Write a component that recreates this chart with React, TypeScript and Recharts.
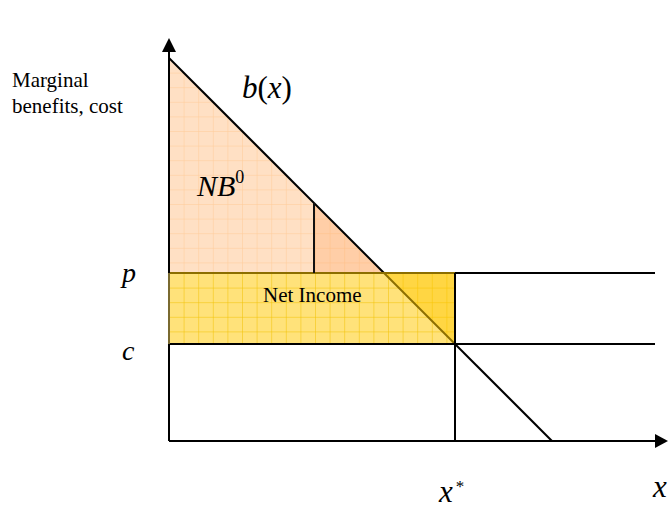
import { ComposedChart, XAxis, YAxis, ReferenceLine, ReferenceArea, ReferenceDot } from "recharts"

// diagram values, in chart units (x: quantity, y: money)
const xDomain = [0, 500]
const yDomain = [0, 403]
const benefitCurve = [{ x: 0, y: 383 }, { x: 383, y: 0 }]
const levelNames = ["p", "c"]
const levelValues = [168, 97]
const levelLabelY = [159, 81]
const levelEnd = 486
const xStar = 286
const cutX = 145
const crossX = 215 // where b(x) meets p
const axisEnd = [499, 403]

const b = (x: number) => benefitCurve[0].y - x
const [price, cost] = levelValues

const serif = "Liberation Serif"
const olive = "#8c6e00"

type Seg = { from: [number, number]; to: [number, number]; color: string }

const segments: Seg[] = [
    { from: [0, b(0)], to: [crossX, price], color: "#000" },
    { from: [crossX, price], to: [xStar, cost], color: olive },
    { from: [xStar, cost], to: [benefitCurve[1].x, 0], color: "#000" },
    { from: [0, price], to: [xStar, price], color: olive },
    { from: [xStar, price], to: [levelEnd, price], color: "#000" },
    { from: [0, cost], to: [levelEnd, cost], color: "#000" },
    { from: [xStar, price], to: [xStar, 0], color: "#000" },
    { from: [cutX, price], to: [cutX, b(cutX)], color: "#111" },
    { from: [0, 0], to: [0, cost], color: "#000" },
    { from: [0, cost], to: [0, price], color: "#7a6a30" },
    { from: [0, price], to: [0, b(0)], color: "#000" },
]

function triangle(kind: "lower" | "upper", fill: string, pattern?: { id: string; bg: string; line: string }) {
    return (props: any) => {
        const { x, y, width: w, height: h } = props
        const pts = kind === "lower"
            ? `${x},${y} ${x},${y + h} ${x + w},${y + h}`
            : `${x},${y} ${x + w},${y} ${x + w},${y + h}`
        return (
            <g>
                {pattern && (
                    <defs>
                        <pattern id={pattern.id} patternUnits="userSpaceOnUse" x={x} y={y} width={14.6} height={14.6}>
                            <rect x={0} y={0} width={14.6} height={14.6} fill={pattern.bg} />
                            <line x1={0} y1={0} x2={0} y2={14.6} stroke={pattern.line} strokeWidth={1} />
                            <line x1={0} y1={0} x2={14.6} y2={0} stroke={pattern.line} strokeWidth={1} />
                        </pattern>
                    </defs>
                )}
                <polygon points={pts} fill={pattern ? `url(#${pattern.id})` : fill} stroke="none" />
            </g>
        )
    }
}

function rectPattern(props: any) {
    const { x, y, width: w, height: h } = props
    return (
        <g>
            <defs>
                <pattern id="yellowGrid" patternUnits="userSpaceOnUse" x={x} y={y} width={14.6} height={14.6}>
                    <rect x={0} y={0} width={14.6} height={14.6} fill="#ffe27a" />
                    <line x1={0} y1={0} x2={0} y2={14.6} stroke="#f2c200" strokeWidth={1} />
                    <line x1={0} y1={0} x2={14.6} y2={0} stroke="#f2c200" strokeWidth={1} />
                </pattern>
            </defs>
            <rect x={x} y={y} width={w} height={h} fill="url(#yellowGrid)" />
        </g>
    )
}

function arrowLine(dir: "up" | "right") {
    return (props: any) => {
        const { x1, y1, x2, y2 } = props
        const tipX = x2, tipY = y2
        const head = dir === "up"
            ? `${tipX},${tipY} ${tipX - 7},${tipY + 14} ${tipX + 7},${tipY + 14}`
            : `${tipX},${tipY} ${tipX - 13},${tipY - 7} ${tipX - 13},${tipY + 7}`
        return (
            <g>
                <line x1={x1} y1={y1} x2={dir === "up" ? x2 : x2 - 10} y2={dir === "up" ? y2 + 10 : y2} stroke="#000" strokeWidth={2} />
                <polygon points={head} fill="#000" />
            </g>
        )
    }
}

function label(content: (cx: number, cy: number) => any) {
    return (props: any) => content(props.cx, props.cy)
}

export default function App() {
    return (
        <div style={{ position: "absolute", left: 0, top: 0, width: 669, height: 510, background: "#fff" }}>
            <ComposedChart width={669} height={510} data={benefitCurve} margin={{ top: 38, right: 0, bottom: 69, left: 169 }}>
                <XAxis dataKey="x" type="number" domain={xDomain} allowDataOverflow hide />
                <YAxis type="number" domain={yDomain} allowDataOverflow hide />

                <ReferenceArea x1={0} x2={crossX} y1={price} y2={b(0)} ifOverflow="visible"
                    shape={triangle("lower", "#ffe0c4", { id: "orangeGrid", bg: "#ffe0c4", line: "#ffcb98" })} />
                <ReferenceArea x1={cutX} x2={crossX} y1={price} y2={b(cutX)} ifOverflow="visible"
                    shape={triangle("lower", "rgba(255,165,100,0.3)")} />
                <ReferenceArea x1={0} x2={xStar} y1={cost} y2={price} ifOverflow="visible" shape={rectPattern} />
                <ReferenceArea x1={crossX} x2={xStar} y1={cost} y2={price} ifOverflow="visible"
                    shape={triangle("upper", "rgba(255,200,0,0.45)")} />

                {segments.map((s, i) => (
                    <ReferenceLine key={i} segment={[{ x: s.from[0], y: s.from[1] }, { x: s.to[0], y: s.to[1] }]}
                        stroke={s.color} strokeWidth={2} ifOverflow="visible" />
                ))}

                <ReferenceLine segment={[{ x: 0, y: b(0) }, { x: 0, y: axisEnd[1] }]} ifOverflow="visible" shape={arrowLine("up")} />
                <ReferenceLine segment={[{ x: 0, y: 0 }, { x: axisEnd[0], y: 0 }]} ifOverflow="visible" shape={arrowLine("right")} />

                <ReferenceDot x={-157} y={354} r={0} ifOverflow="visible" shape={label((cx, cy) => (
                    <text x={cx} y={cy} fontFamily={serif} fontSize={21} fill="#000">
                        <tspan x={cx}>Marginal</tspan>
                        <tspan x={cx} dy={26}>benefits, cost</tspan>
                    </text>
                ))} />
                <ReferenceDot x={73} y={343} r={0} ifOverflow="visible" shape={label((cx, cy) => (
                    <text x={cx} y={cy} fontFamily={serif} fontSize={31} fill="#000">
                        <tspan fontStyle="italic">b</tspan><tspan>(</tspan><tspan fontStyle="italic">x</tspan><tspan>)</tspan>
                    </text>
                ))} />
                <ReferenceDot x={28} y={245} r={0} ifOverflow="visible" shape={label((cx, cy) => (
                    <text x={cx} y={cy} fontFamily={serif} fontSize={30} fontStyle="italic" fill="#000">
                        NB<tspan fontStyle="normal" fontSize={18} dy={-13}>0</tspan>
                    </text>
                ))} />
                <ReferenceDot x={94} y={139} r={0} ifOverflow="visible" shape={label((cx, cy) => (
                    <text x={cx} y={cy} fontFamily={serif} fontSize={21} fill="#000">Net Income</text>
                ))} />
                {levelNames.map((name, i) => (
                    <ReferenceDot key={name} x={-47} y={levelLabelY[i]} r={0} ifOverflow="visible" shape={label((cx, cy) => (
                        <text x={cx} y={cy} fontFamily={serif} fontSize={28} fontStyle="italic" fill="#000">{name}</text>
                    ))} />
                ))}
                <ReferenceDot x={xStar - 16} y={-61} r={0} ifOverflow="visible" shape={label((cx, cy) => (
                    <text x={cx} y={cy} fontFamily={serif} fontSize={31} fontStyle="italic" fill="#000">
                        x<tspan fontStyle="normal" fontSize={17} dy={-10} dx={3}>*</tspan>
                    </text>
                ))} />
                <ReferenceDot x={484} y={-56} r={0} ifOverflow="visible" shape={label((cx, cy) => (
                    <text x={cx} y={cy} fontFamily={serif} fontSize={31} fontStyle="italic" fill="#000">x</text>
                ))} />
            </ComposedChart>
        </div>
    )
}
